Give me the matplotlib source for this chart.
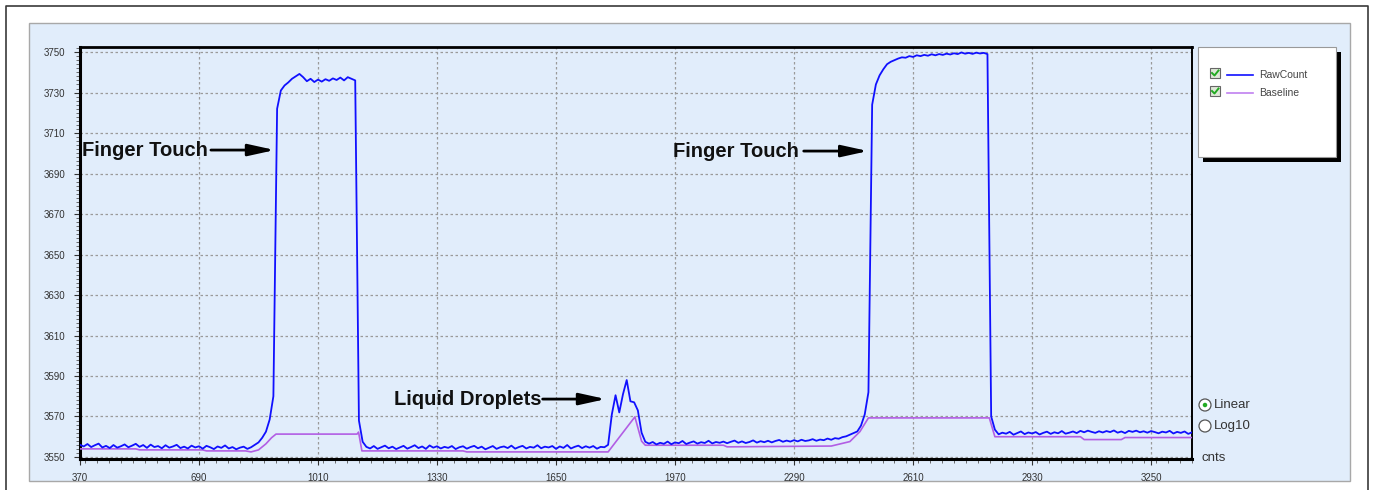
import numpy as np
import matplotlib.pyplot as plt
from matplotlib.patches import Rectangle, Ellipse
from matplotlib.lines import Line2D
from matplotlib.ticker import MultipleLocator

plt.rcParams['font.family'] = ['Liberation Sans', 'DejaVu Sans']

# sample positions of the raw trace (one reading every 10 counts)
raw_x = np.arange(370, 3361, 10)

# RawCount readings
raw_y = [
    # idle 370-840
    3556.0, 3555.2, 3556.4, 3554.9, 3555.8, 3556.6, 3554.7, 3555.5, 3554.4, 3555.9,
    3554.6, 3555.3, 3556.2, 3554.8, 3555.6, 3556.5, 3555.0, 3555.9, 3554.5, 3556.1,
    3554.9, 3555.4, 3554.3, 3555.8, 3554.6, 3555.2, 3556.0, 3554.4, 3555.1, 3554.2,
    3555.6, 3554.7, 3555.3, 3554.1, 3555.5, 3554.8, 3553.9, 3555.2, 3554.5, 3555.7,
    3554.2, 3554.9, 3553.8, 3554.6, 3555.1, 3554.0, 3554.8, 3556.0,
    # first finger touch 850-1130
    3557.2, 3559.5, 3562.5, 3568.5, 3580.0,
    3722.0, 3731.0, 3733.5, 3735.0, 3736.8, 3738.0, 3739.2, 3737.6, 3735.6, 3736.8,
    3735.2, 3736.4, 3735.4, 3736.6, 3735.8, 3737.0, 3736.2, 3737.4, 3736.0, 3737.6,
    3736.8, 3736.0, 3568.0, 3557.5,
    # idle 1140-1780
    3555.0, 3554.2, 3555.4, 3554.0, 3554.8, 3555.6, 3554.3, 3555.1, 3553.9, 3554.7,
    3555.5, 3554.1, 3554.9, 3555.8, 3554.4, 3555.2, 3554.0, 3555.7, 3554.6, 3555.3,
    3554.2, 3555.0, 3554.5, 3555.4, 3553.9, 3554.8, 3555.3, 3554.1, 3554.9, 3555.5,
    3554.3, 3555.1, 3553.8, 3554.6, 3555.4, 3554.0, 3554.8, 3555.2, 3554.4, 3555.6,
    3554.1, 3554.9, 3555.5, 3554.2, 3555.0, 3554.6, 3555.8, 3554.3, 3555.1, 3554.7,
    3555.4, 3554.0, 3555.2, 3554.5, 3555.9, 3554.2, 3555.0, 3555.6, 3554.4, 3555.3,
    3554.6, 3555.4, 3554.1, 3555.0, 3554.8,
    # liquid droplets 1790-1890
    3556.0, 3571.0, 3580.5, 3572.0, 3581.0, 3588.0, 3577.5, 3577.0, 3573.0, 3562.0,
    3557.5,
    # idle 1900-2430
    3556.6, 3557.4, 3556.2, 3557.0, 3556.5, 3557.6, 3556.3, 3557.2, 3556.8, 3557.9,
    3556.4, 3557.1, 3557.7, 3556.6, 3557.3, 3556.9, 3558.0, 3556.7, 3557.4, 3557.0,
    3557.6, 3556.8, 3557.5, 3558.1, 3557.0, 3557.7, 3556.9, 3557.4, 3558.2, 3557.1,
    3557.8, 3557.3, 3558.0, 3557.2, 3557.9, 3558.4, 3557.5, 3558.1, 3557.6, 3558.3,
    3557.7, 3558.5, 3557.9, 3558.2, 3558.8, 3558.0, 3558.6, 3558.3, 3559.1, 3558.5,
    3559.3, 3559.0, 3559.8, 3560.2,
    # second finger touch 2440-2830
    3561.0, 3561.8, 3562.6, 3565.5, 3571.0, 3582.0,
    3724.0, 3734.0, 3738.5, 3741.5, 3744.0, 3745.2, 3746.0, 3746.8, 3747.4, 3747.2,
    3748.0, 3747.6, 3748.4, 3748.0, 3748.6, 3748.2, 3748.9, 3748.4, 3749.0, 3748.6,
    3749.2, 3748.8, 3749.4, 3749.0, 3749.8, 3749.2, 3749.6, 3749.1, 3749.7, 3749.3,
    3749.6, 3749.0,
    3570.0, 3563.5,
    # idle 2840-3360
    3561.2, 3562.0, 3561.5, 3562.4, 3561.0, 3561.8, 3562.6, 3561.3, 3562.1, 3561.6,
    3562.3, 3561.1, 3561.9, 3562.5, 3561.4, 3562.2, 3561.7, 3562.8, 3561.5, 3562.0,
    3562.6, 3561.8, 3562.9, 3562.2, 3563.0, 3562.4, 3561.9, 3562.7, 3562.1, 3562.8,
    3562.3, 3563.1, 3562.0, 3562.6, 3561.8, 3562.9, 3562.4, 3563.0, 3562.2, 3562.7,
    3562.0, 3562.8, 3562.3, 3561.7, 3562.5, 3562.1, 3562.9, 3561.6, 3562.4, 3561.9,
    3562.6, 3561.4, 3562.2,
]

# Baseline breakpoints
base_x = [370, 520, 530, 700, 710, 815, 830, 850, 870, 885, 897, 1115, 1119, 1128,
          1400, 1410, 1790, 1862, 1880, 1890, 2100, 2110, 2390, 2440, 2467, 2490,
          2815, 2830, 3060, 3070, 3170, 3180, 3360]
base_y = [3554.0, 3554.0, 3553.5, 3553.5, 3553.0, 3553.0, 3552.5, 3553.5, 3556.5,
          3559.5, 3561.3, 3561.3, 3562.3, 3553.0, 3553.0, 3552.5, 3552.5, 3569.8,
          3557.8, 3555.8, 3555.8, 3555.0, 3555.4, 3557.6, 3562.5, 3569.3, 3569.3,
          3560.0, 3560.0, 3558.6, 3558.6, 3559.6, 3559.6]

x_ticks = [370, 690, 1010, 1330, 1650, 1970, 2290, 2610, 2930, 3250]
y_ticks = [3550, 3570, 3590, 3610, 3630, 3650, 3670, 3690, 3710, 3730, 3750]

W, H = 1373, 490
panel_bg = '#e1edfb'
raw_col = '#1010ff'
base_col = '#b25ee4'


def fx(px):
    return px / W


def fy(py):
    return 1 - py / H


fig = plt.figure(figsize=(W / 100, H / 100), dpi=100)
fig.patch.set_facecolor('white')

# outer frame and light blue panel
fig.add_artist(Line2D([fx(6), fx(6), fx(1368), fx(1368)], [0, fy(6), fy(6), 0],
                      color='#3a3a3a', lw=1.2, transform=fig.transFigure))
fig.add_artist(Rectangle((fx(29), fy(481)), fx(1350 - 29), (481 - 23) / H,
                         facecolor=panel_bg, edgecolor='#a8a8a8', lw=1,
                         transform=fig.transFigure, zorder=0))

ax = fig.add_axes([fx(80), fy(459), fx(1192 - 80), (459 - 47) / H])
ax.set_facecolor(panel_bg)
ax.plot(base_x, base_y, color=base_col, lw=1.2, zorder=3)
ax.plot(raw_x, raw_y, color=raw_col, lw=1.3, zorder=4)

ax.set_xlim(370, 3360)
ax.set_ylim(3549, 3752.5)
ax.set_xticks(x_ticks)
ax.set_yticks(y_ticks)
ax.xaxis.set_minor_locator(MultipleLocator(32))
ax.yaxis.set_minor_locator(MultipleLocator(2))
ax.tick_params(axis='both', which='major', labelsize=7, colors='#333333',
               length=4, width=0.8, direction='out')
ax.tick_params(axis='both', which='minor', length=3, width=0.6, color='#555555')
ax.tick_params(axis='y', pad=22)
ax.tick_params(axis='x', pad=6)
for lab in ax.get_yticklabels():
    lab.set_horizontalalignment('left')
for side, lw in [('left', 2.2), ('bottom', 2.2), ('top', 2.0), ('right', 1.4)]:
    ax.spines[side].set_linewidth(lw)
    ax.spines[side].set_color('black')
ax.grid(True, which='major', color='#9a9a9a', ls=(0, (2, 2)), lw=0.9)

# annotations
notes = [('Finger Touch', 375, 3701.6, 722, 894),
         ('Liquid Droplets', 1214, 3578.6, 1614, 1784),
         ('Finger Touch', 1965, 3701.1, 2316, 2489)]
for txt, tx, ty, ax0, ax1 in notes:
    ax.text(tx, ty, txt, fontsize=14.5, fontweight='bold', color='#111111',
            ha='left', va='center', zorder=5)
    ax.annotate('', xy=(ax1, ty), xytext=(ax0, ty),
                arrowprops=dict(arrowstyle='-|>,head_length=1.0,head_width=0.22',
                                color='black', lw=2, mutation_scale=16,
                                shrinkA=0, shrinkB=0), zorder=5)

# legend box with drop shadow
fig.add_artist(Rectangle((fx(1203), fy(162)), fx(1341 - 1203), (162 - 52) / H,
                         facecolor='black', edgecolor='none',
                         transform=fig.transFigure, zorder=1))
fig.add_artist(Rectangle((fx(1198), fy(157)), fx(1336 - 1198), (157 - 47) / H,
                         facecolor='white', edgecolor='#999999', lw=0.8,
                         transform=fig.transFigure, zorder=2))
for py, col, name in [(73, raw_col, 'RawCount'), (91, '#c080f0', 'Baseline')]:
    fig.add_artist(Rectangle((fx(1210), fy(py + 5)), fx(10), 10 / H,
                             facecolor='#dfe8d8', edgecolor='#666666', lw=0.8,
                             transform=fig.transFigure, zorder=3))
    fig.add_artist(Line2D([fx(1212), fx(1214.5), fx(1218.5)],
                          [fy(py), fy(py + 2.5), fy(py - 2.5)],
                          color='#22aa22', lw=1.4, transform=fig.transFigure, zorder=4))
    fig.add_artist(Line2D([fx(1227), fx(1253)], [fy(py + 2), fy(py + 2)],
                          color=col, lw=1.2, transform=fig.transFigure, zorder=4))
    fig.text(fx(1259), fy(py + 2), name, fontsize=7.5, color='#444444',
             ha='left', va='center', zorder=4)

# scale radio buttons
for py, name, on in [(405, 'Linear', True), (426, 'Log10', False)]:
    fig.add_artist(Ellipse((fx(1205), fy(py)), 12 / W, 12 / H, facecolor='white',
                           edgecolor='#555555', lw=0.9, transform=fig.transFigure))
    if on:
        fig.add_artist(Ellipse((fx(1205), fy(py)), 4.5 / W, 4.5 / H,
                               facecolor='#22aa22', edgecolor='none',
                               transform=fig.transFigure))
    fig.text(fx(1214), fy(py), name, fontsize=9.5, color='#333333',
             ha='left', va='center')
fig.text(fx(1201), fy(458), 'cnts', fontsize=9.5, color='#333333',
         ha='left', va='center')

fig.savefig('out.png', dpi=100)
